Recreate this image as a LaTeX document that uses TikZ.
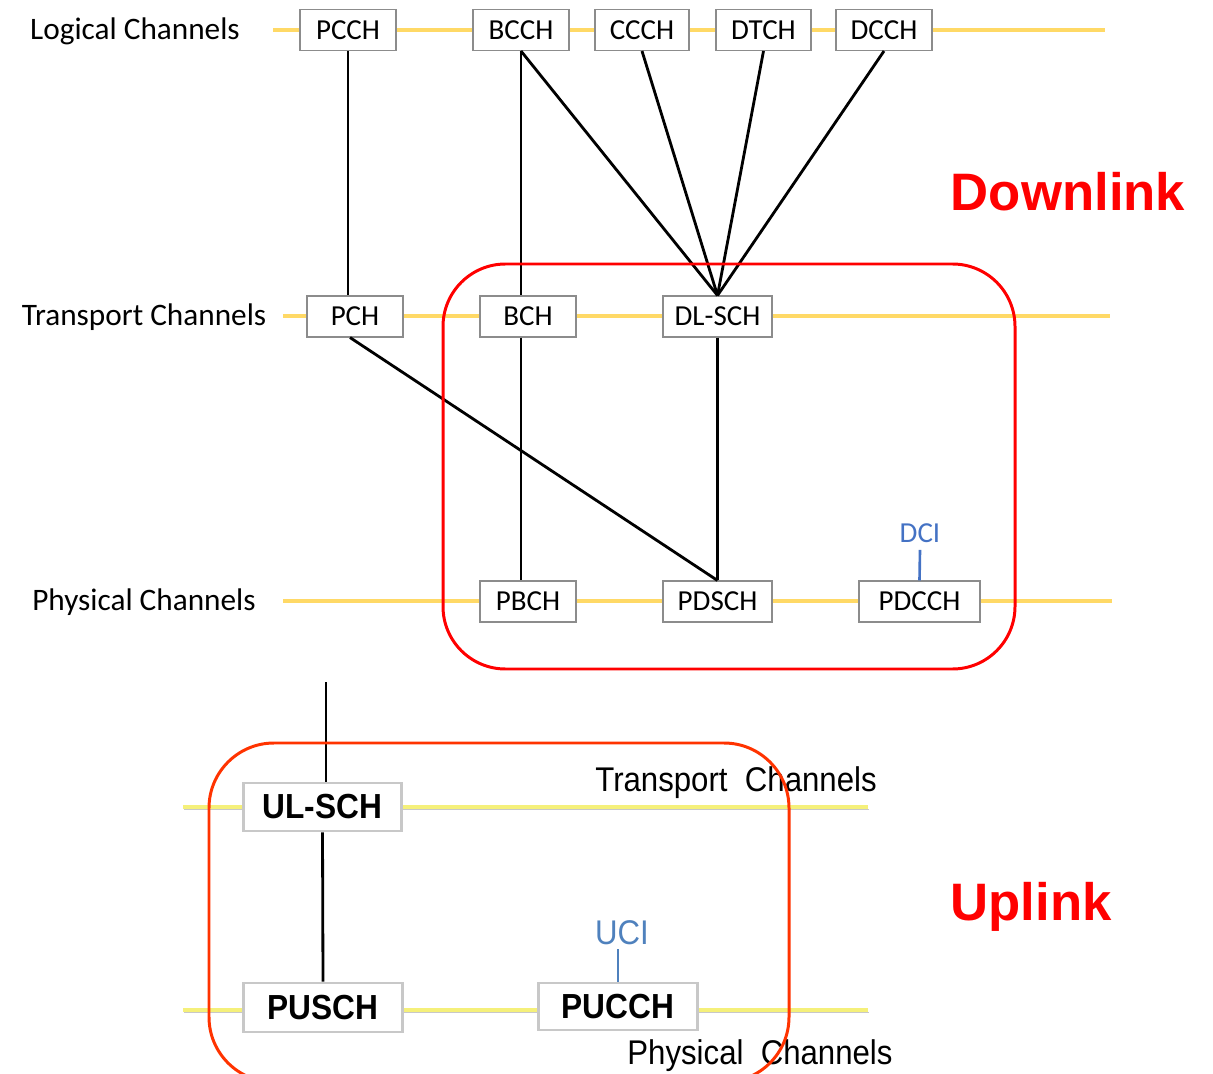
\documentclass[tikz,border=0pt]{standalone}
\usepackage{fontspec}
\setmainfont{Carlito}
\newfontfamily\arialfont{Liberation Sans}
\newfontfamily\arialnarrow[FakeStretch=0.91]{Liberation Sans}
\definecolor{ylw}{HTML}{FFD966}
\definecolor{ylwb}{HTML}{F5F07A}
\definecolor{shd}{HTML}{C8C8C8}
\definecolor{boxgray}{HTML}{8C8C8C}
\definecolor{redA}{HTML}{FF0000}
\definecolor{redB}{HTML}{FF3300}
\definecolor{blueA}{HTML}{4472C4}
\definecolor{blueB}{HTML}{4F81BD}
\tikzset{
  chbox/.style={draw=boxgray, line width=0.6pt, fill=white, minimum height=0.82cm, minimum width=1.92cm, inner sep=0pt, font=\fontsize{16.5}{18}\selectfont},
  ulbox/.style={draw=shd, line width=1.6pt, fill=white, minimum width=3.17cm, minimum height=0.96cm, inner sep=0pt, font=\arialnarrow\bfseries\fontsize{19.8}{22}\selectfont},
  rowlabel/.style={font=\fontsize{17.8}{20}\selectfont},
  ullabel/.style={font=\arialnarrow\fontsize{19.5}{22}\selectfont},
  yline/.style={draw=ylw, line width=2.1pt},
  ylineb/.style={draw=ylwb, line width=2.1pt},
  shadowline/.style={draw=shd, line width=1.0pt},
  conn/.style={draw=black, line width=1.6pt},
  sigline/.style={line width=1.5pt},
  bigred/.style={font=\arialfont\bfseries\fontsize{30}{34}\selectfont, text=redA},
}
\begin{document}
\begin{tikzpicture}[x=0.02cm, y=-0.02cm]
\useasboundingbox (0,0) rectangle (1213,1074);
% yellow rows (top)
\draw[yline] (273,30) -- (1105,30);
\draw[yline] (283,316) -- (1110,316);
\draw[yline] (283,601) -- (1112,601);
% bottom rows with shadow
\draw[shadowline] (184,809.5) -- (869,809.5);
\draw[ylineb] (183,807) -- (868,807);
\draw[shadowline] (184,1012.5) -- (869,1012.5);
\draw[ylineb] (183,1010) -- (868,1010);

% row labels
\node[rowlabel] (lbllog) at (135,31) {Logical Channels};
\node[rowlabel] (lbltr) at (144,317) {Transport Channels};
\node[rowlabel] (lblph) at (144,602) {Physical Channels};

% logical channels
\node[chbox] (pcch) at (348,30) {PCCH};
\node[chbox] (bcch) at (521,30) {BCCH};
\node[chbox, minimum width=1.88cm] (ccch) at (642,30) {CCCH};
\node[chbox, minimum width=1.9cm] (dtch) at (763.5,30) {DTCH};
\node[chbox] (dcch) at (884,30) {DCCH};
% transport channels
\node[chbox] (pch) at (355,316.5) {PCH};
\node[chbox] (bch) at (528,316.5) {BCH};
\node[chbox, minimum width=2.18cm] (dlsch) at (717.5,316.5) {DL-SCH};
% physical channels
\node[chbox] (pbch) at (528,601.5) {PBCH};
\node[chbox, minimum width=2.18cm] (pdsch) at (717.5,601.5) {PDSCH};
\node[chbox, minimum width=2.42cm] (pdcch) at (919.5,601.5) {PDCCH};
\node[font=\fontsize{16.5}{18}\selectfont, text=blueA, inner sep=4pt] (dci) at (920,533) {DCI};

% connectors downlink
\draw[conn] (pcch.south) -- (pcch.south |- pch.north);
\draw[conn] (bcch.south) -- (bcch.south |- bch.north);
\draw[conn] (bcch.south |- bch.south) -- (bcch.south |- pbch.north);
\draw[conn] (bcch.south) -- (dlsch.north);
\draw[conn] (ccch.south) -- (dlsch.north);
\draw[conn] (dtch.south) -- (dlsch.north);
\draw[conn] (dcch.south) -- (dlsch.north);
\draw[conn] ([xshift=-0.1cm]pch.south) -- (pdsch.north);
\draw[conn] (dlsch.south) -- (pdsch.north);
\draw[sigline, draw=blueA] (dci.south) -- (pdcch.north);

% downlink frame
\draw[draw=redA, line width=1.7pt, rounded corners=1.25cm] (443,264) rectangle (1015,669);
\node[bigred] (dl) at (1068,192) {Downlink};

% uplink
\coordinate (ultop) at (326,682);
\node[ulbox] (ulsch) at (322.5,807) {UL-SCH};
\node[ulbox, minimum height=0.98cm] (pusch) at (323,1007.5) {PUSCH};
\node[ulbox, minimum height=0.94cm] (pucch) at (618,1006.5) {PUCCH};
\node[font=\arialnarrow\fontsize{19.5}{22}\selectfont, text=blueB, inner sep=2pt] (uci) at (622,933) {UCI};
\draw[conn] (ultop) -- (ultop |- ulsch.north);
\draw[conn] (ulsch.south) -- (pusch.north);
\draw[sigline, draw=blueB] (uci.south -| pucch.north) -- (pucch.north);
\node[ullabel] (ultr) at (736,783) {Transport\ \ Channels};
\node[ullabel] (ulph) at (760,1056) {Physical\ \ Channels};
\draw[draw=redB, line width=1.7pt, rounded corners=1.3cm] (209,743) rectangle (789,1082);
\node[bigred] (ul) at (1031,907) {Uplink};
\end{tikzpicture}
\end{document}
